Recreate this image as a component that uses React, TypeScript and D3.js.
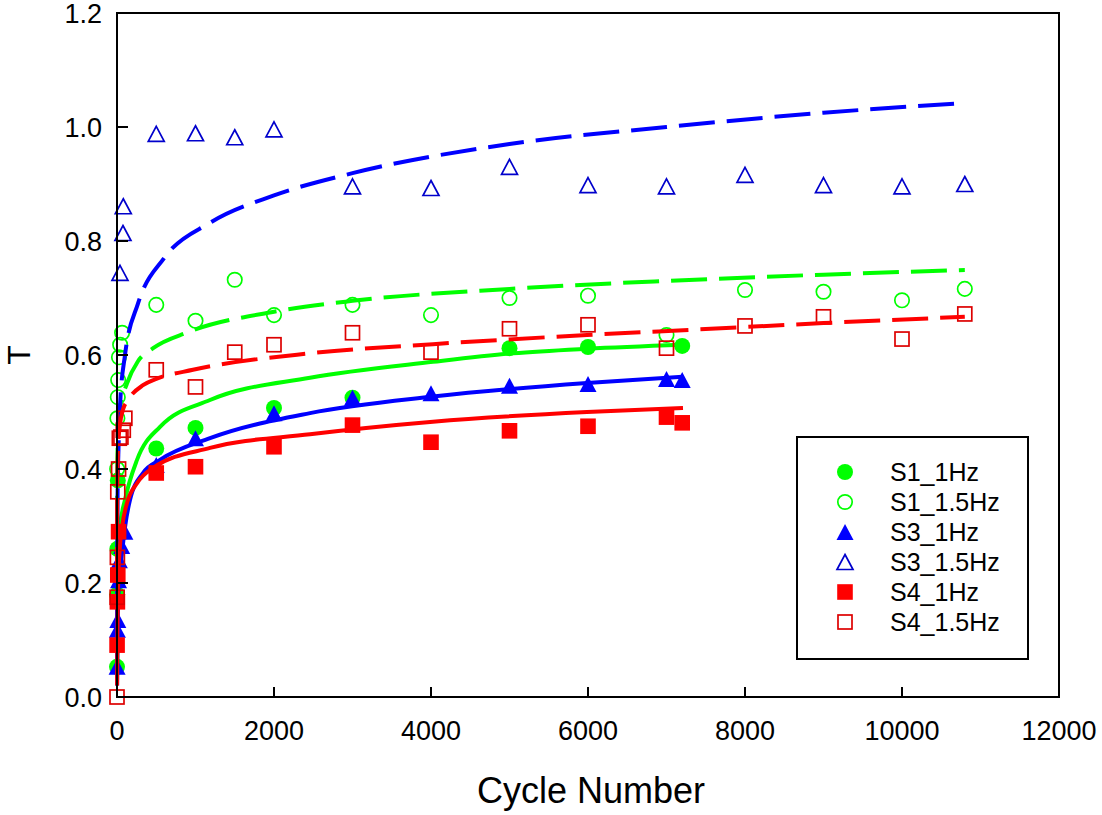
import * as d3 from 'd3'

type Pt = [number, number]
type Shape = 'circle' | 'triangle' | 'square'

// measured data (cycle number, T)
const s1Hz1: Pt[] = [
  [0, 0.053], [2, 0.18], [5, 0.26], [10, 0.38], [500, 0.436], [1000, 0.472], [2000, 0.507],
  [3000, 0.525], [5000, 0.612], [6000, 0.614], [7200, 0.616],
]
const s1Hz15: Pt[] = [
  [2, 0.4], [5, 0.489], [10, 0.526], [15, 0.556], [25, 0.596], [40, 0.618], [65, 0.639],
  [500, 0.688], [1000, 0.66], [1500, 0.732], [2000, 0.67], [3000, 0.688], [4000, 0.67],
  [5000, 0.7], [6000, 0.704], [7000, 0.635], [8000, 0.714], [9000, 0.711], [10000, 0.696],
  [10800, 0.716],
]
const s3Hz1: Pt[] = [
  [1, 0.053], [5, 0.118], [10, 0.135], [20, 0.205], [30, 0.24], [60, 0.265], [100, 0.29],
  [500, 0.407], [1000, 0.454], [2000, 0.498], [3000, 0.525], [4000, 0.533], [5000, 0.546],
  [6000, 0.549], [7000, 0.558], [7200, 0.556],
]
const s3Hz15: Pt[] = [
  [38, 0.744], [76, 0.814], [80, 0.861], [500, 0.988], [1000, 0.989], [1500, 0.982],
  [2000, 0.996], [3000, 0.896], [4000, 0.893], [5000, 0.93], [6000, 0.898], [7000, 0.896],
  [8000, 0.916], [9000, 0.898], [10000, 0.896], [10800, 0.9],
]
const s4Hz1: Pt[] = [
  [1, 0.091], [5, 0.167], [10, 0.214], [20, 0.29], [500, 0.393], [1000, 0.404], [2000, 0.439],
  [3000, 0.477], [4000, 0.447], [5000, 0.467], [6000, 0.475], [7000, 0.491], [7200, 0.481],
]
const s4Hz15: Pt[] = [
  [0, 0], [2, 0.175], [5, 0.245], [10, 0.36], [20, 0.4], [30, 0.454], [50, 0.456], [80, 0.468],
  [100, 0.489], [500, 0.574], [1000, 0.544], [1500, 0.605], [2000, 0.618], [3000, 0.639],
  [4000, 0.605], [5000, 0.646], [6000, 0.653], [7000, 0.612], [8000, 0.651], [9000, 0.667],
  [10000, 0.628], [10800, 0.672],
]

// fitted curves
const fitS1Hz1: Pt[] = [
  [1, 0.03], [5, 0.15], [15, 0.24], [38, 0.298], [102, 0.346], [255, 0.416], [548, 0.474],
  [1185, 0.521], [2459, 0.56], [4025, 0.588], [5045, 0.603], [5987, 0.611], [7210, 0.618],
]
const fitS1Hz15: Pt[] = [
  [0.3, 0.29], [2, 0.376], [10, 0.446], [40, 0.506], [127, 0.55], [267, 0.589], [460, 0.612],
  [905, 0.64], [2000, 0.676], [3000, 0.695], [5000, 0.716], [7000, 0.73], [9000, 0.741],
  [10800, 0.749],
]
const fitS3Hz1: Pt[] = [
  [1, 0.02], [5, 0.09], [15, 0.17], [40, 0.22], [64, 0.253], [102, 0.298], [166, 0.346],
  [331, 0.393], [548, 0.416], [1185, 0.454], [2459, 0.498], [4025, 0.527], [5987, 0.551],
  [7210, 0.562],
]
const fitS3Hz15: Pt[] = [
  [0.3, 0.05], [2, 0.23], [8, 0.36], [20, 0.44], [38, 0.51], [102, 0.6], [267, 0.69],
  [600, 0.77], [1185, 0.832], [2000, 0.88], [3000, 0.919], [5000, 0.97], [7000, 1.0],
  [9000, 1.025], [10800, 1.042],
]
const fitS4Hz1: Pt[] = [
  [1, 0.02], [5, 0.1], [15, 0.2], [35, 0.26], [64, 0.298], [127, 0.34], [255, 0.375],
  [459, 0.402], [1185, 0.437], [2459, 0.461], [4025, 0.483], [5987, 0.5], [7210, 0.507],
]
const fitS4Hz15: Pt[] = [
  [0.3, 0.2], [3, 0.36], [15, 0.44], [40, 0.48], [76, 0.504], [140, 0.521], [331, 0.547],
  [500, 0.558], [968, 0.574], [2459, 0.603], [4025, 0.619], [5987, 0.635], [7427, 0.645],
  [9000, 0.656], [10800, 0.667],
]

const xTicks = [0, 2000, 4000, 6000, 8000, 10000, 12000]
const yTicks = [0, 0.2, 0.4, 0.6, 0.8, 1.0, 1.2]

const GREEN = '#00ff00'
const BLUE = '#0000ff'
const RED = '#ff0000'

const series = [
  { name: 'S1_1Hz', pts: s1Hz1, fit: fitS1Hz1, color: GREEN, line: GREEN, shape: 'circle' as Shape, filled: true },
  { name: 'S1_1.5Hz', pts: s1Hz15, fit: fitS1Hz15, color: GREEN, line: GREEN, shape: 'circle' as Shape, filled: false },
  { name: 'S3_1Hz', pts: s3Hz1, fit: fitS3Hz1, color: BLUE, line: BLUE, shape: 'triangle' as Shape, filled: true },
  { name: 'S3_1.5Hz', pts: s3Hz15, fit: fitS3Hz15, color: '#0000cc', line: BLUE, shape: 'triangle' as Shape, filled: false },
  { name: 'S4_1Hz', pts: s4Hz1, fit: fitS4Hz1, color: RED, line: RED, shape: 'square' as Shape, filled: true },
  { name: 'S4_1.5Hz', pts: s4Hz15, fit: fitS4Hz15, color: '#dd0000', line: RED, shape: 'square' as Shape, filled: false },
]

const FONT = 'Arial, "Liberation Sans", sans-serif'

function Marker({ cx, cy, shape, color, filled }: {
  cx: number; cy: number; shape: Shape; color: string; filled: boolean
}) {
  const fill = filled ? color : 'none'
  const stroke = filled ? 'none' : color
  const sw = 1.7
  if (shape === 'circle') {
    const r = filled ? 8 : 7.2
    return <circle cx={cx} cy={cy} r={r} fill={fill} stroke={stroke} strokeWidth={sw} />
  }
  if (shape === 'square') {
    const h = filled ? 7.8 : 7
    return <rect x={cx - h} y={cy - h} width={h * 2} height={h * 2} fill={fill} stroke={stroke} strokeWidth={sw} />
  }
  const w = filled ? 8.5 : 8
  const h = filled ? 8 : 7.5
  return (
    <path
      d={`M${cx},${cy - h}L${cx + w},${cy + h}L${cx - w},${cy + h}Z`}
      fill={fill}
      stroke={stroke}
      strokeWidth={sw}
    />
  )
}

export default function App() {
  const width = 1102
  const height = 815
  const left = 117
  const right = 1059
  const top = 13
  const bottom = 697

  const x = d3.scaleLinear().domain([0, 12000]).range([left, right])
  const y = d3.scaleLinear().domain([0, 1.2]).range([bottom, top])

  const line = d3
    .line<Pt>()
    .x((d) => x(d[0]))
    .y((d) => y(d[1]))
    .curve(d3.curveMonotoneX)

  const legendX = 845
  const legendY0 = 472
  const legendStep = 30

  return (
    <svg
      width={width}
      height={height}
      style={{ position: 'absolute', left: 0, top: 0, background: '#fff' }}
      fontFamily={FONT}
    >
      <rect x={0} y={0} width={width} height={height} fill="#fff" />

      {series.map((s) => (
        <g key={s.name}>
          {s.pts.map((p, i) => (
            <Marker key={i} cx={x(p[0])} cy={y(p[1])} shape={s.shape} color={s.color} filled={s.filled} />
          ))}
          <path
            d={line(s.fit) ?? ''}
            fill="none"
            stroke={s.line}
            strokeWidth={4}
            strokeDasharray={s.filled ? undefined : '36,12'}
          />
        </g>
      ))}

      {/* frame */}
      <rect x={left} y={top} width={right - left} height={bottom - top} fill="none" stroke="#000" strokeWidth={2} />

      {xTicks.map((t) => (
        <g key={`x-${t}`}>
          <line x1={x(t)} x2={x(t)} y1={bottom} y2={bottom - 10} stroke="#000" strokeWidth={2} />
          <text x={x(t)} y={740} textAnchor="middle" fontSize={27} fill="#000">
            {t}
          </text>
        </g>
      ))}

      {yTicks.map((t) => (
        <g key={`y-${t}`}>
          <line x1={left} x2={left + 11} y1={y(t)} y2={y(t)} stroke="#000" strokeWidth={2} />
          <text x={102} y={y(t) + 10} textAnchor="end" fontSize={27} fill="#000">
            {t.toFixed(1)}
          </text>
        </g>
      ))}

      <text x={591} y={803} textAnchor="middle" fontSize={36} fill="#000">
        Cycle Number
      </text>
      <text transform="translate(30, 355) rotate(-90)" textAnchor="middle" fontSize={32} fill="#000">
        T
      </text>

      {/* legend */}
      <rect x={797} y={437} width={231} height={222} fill="#fff" stroke="#000" strokeWidth={2} />
      {series.map((s, i) => {
        const cy = legendY0 + i * legendStep
        return (
          <g key={`leg-${s.name}`}>
            <Marker cx={legendX} cy={cy} shape={s.shape} color={s.color} filled={s.filled} />
            <text x={890} y={cy + 9} fontSize={25} fill="#000">
              {s.name}
            </text>
          </g>
        )
      })}
    </svg>
  )
}
